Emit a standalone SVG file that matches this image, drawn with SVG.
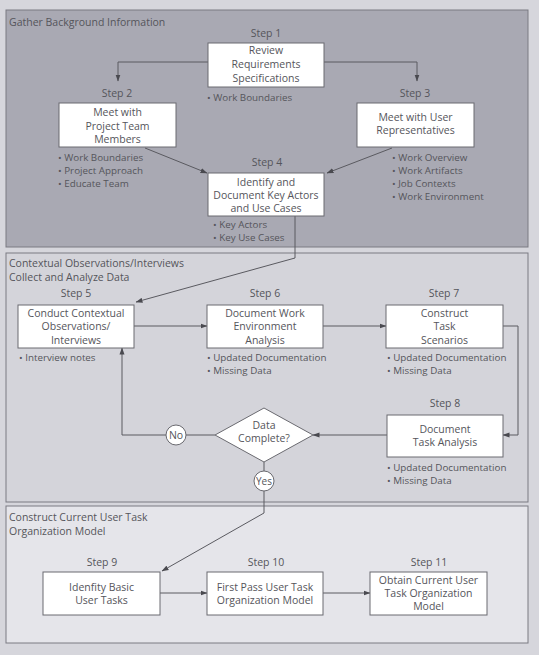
<svg xmlns="http://www.w3.org/2000/svg" width="539" height="655" viewBox="0 0 539 655">
<style>
text{font-family:"Open Sans","Noto Sans","DejaVu Sans",sans-serif;fill:#55555b}
.t{font-size:10.5px}
.c{font-size:10.5px;text-anchor:middle}
.b{font-size:9.8px}
.box{fill:#ffffff;stroke:#6a6a70;stroke-width:1}
.panel{stroke:#7a7a82;stroke-width:1}
.ln{fill:none;stroke:#5a5a60;stroke-width:1}
.arr{fill:none;stroke:#5a5a60;stroke-width:1;marker-end:url(#ah)}
</style>
<defs>
<marker id="ah" markerWidth="7" markerHeight="6" refX="6.5" refY="3" orient="auto" markerUnits="userSpaceOnUse">
<path d="M0,0.5 L7,3 L0,5.5 Z" fill="#4a4a50"/>
</marker>
</defs>
<rect x="0" y="0" width="539" height="655" fill="#d6d6dc"/>
<g id="panel1">
<rect class="panel" x="6" y="10" width="522" height="237" fill="#a9a9b3"/>
<text class="t" x="9" y="25.5">Gather Background Information</text>
</g>
<g id="panel2">
<rect class="panel" x="6" y="253" width="522" height="249" fill="#d4d4da"/>
<text class="t" x="9" y="267">Contextual Observations/Interviews</text>
<text class="t" x="9" y="281">Collect and Analyze Data</text>
</g>
<g id="panel3">
<rect class="panel" x="6" y="506" width="522" height="137" fill="#e5e5ea"/>
<text class="t" x="9" y="521">Construct Current User Task</text>
<text class="t" x="9" y="535">Organization Model</text>
</g>
<g id="connectors">
<path class="arr" d="M208,62 H118 V81"/>
<path class="arr" d="M324,62 H417 V81"/>
<path class="arr" d="M145,148 L207,173"/>
<path class="arr" d="M392,148 L327,173"/>
<path class="arr" d="M295,216 V258 L136,302"/>
<path class="arr" d="M134,326 H207"/>
<path class="arr" d="M323,326 H386"/>
<path class="arr" d="M503,326 H518 V435 H503"/>
<path class="arr" d="M387,435 H313"/>
<path class="ln" d="M215,435 H186"/>
<path class="arr" d="M166,435 H122 V348"/>
<path class="ln" d="M264,462 V471"/>
<path class="arr" d="M264,491 V513 L162,571"/>
<path class="arr" d="M160,593 H207"/>
<path class="arr" d="M323,593 H370"/>
</g>
<g id="step1">
<text class="c" x="266" y="37">Step 1</text>
<rect class="box" x="208" y="43" width="116" height="44"/>
<text class="c" x="266" y="54">Review</text>
<text class="c" x="266" y="68">Requirements</text>
<text class="c" x="266" y="82">Specifications</text>
<text class="b" x="207" y="101">• Work Boundaries</text>
</g>
<g id="step2">
<text class="c" x="117" y="97">Step 2</text>
<rect class="box" x="59" y="103" width="117" height="44"/>
<text class="c" x="117.5" y="116">Meet with</text>
<text class="c" x="117.5" y="130">Project Team</text>
<text class="c" x="117.5" y="143">Members</text>
<text class="b" x="58" y="160.5">• Work Boundaries</text>
<text class="b" x="58" y="173.5">• Project Approach</text>
<text class="b" x="58" y="186.5">• Educate Team</text>
</g>
<g id="step3">
<text class="c" x="415" y="97">Step 3</text>
<rect class="box" x="357" y="103" width="117" height="44"/>
<text class="c" x="415.5" y="121">Meet with User</text>
<text class="c" x="415.5" y="134">Representatives</text>
<text class="b" x="392" y="160.5">• Work Overview</text>
<text class="b" x="392" y="174">• Work Artifacts</text>
<text class="b" x="392" y="187">• Job Contexts</text>
<text class="b" x="392" y="200">• Work Environment</text>
</g>
<g id="step4">
<text class="c" x="267" y="166">Step 4</text>
<rect class="box" x="208" y="173" width="116" height="43"/>
<text class="c" x="266" y="186">Identify and</text>
<text class="c" x="266" y="199">Document Key Actors</text>
<text class="c" x="266" y="212">and Use Cases</text>
<text class="b" x="213" y="227.5">• Key Actors</text>
<text class="b" x="213" y="240.5">• Key Use Cases</text>
</g>
<g id="step5">
<text class="c" x="76" y="297">Step 5</text>
<rect class="box" x="18" y="305" width="116" height="43"/>
<text class="c" x="76" y="317">Conduct Contextual</text>
<text class="c" x="76" y="330">Observations/</text>
<text class="c" x="76" y="344">Interviews</text>
<text class="b" x="19" y="360.5">• Interview notes</text>
</g>
<g id="step6">
<text class="c" x="265" y="297">Step 6</text>
<rect class="box" x="207" y="305" width="116" height="43"/>
<text class="c" x="265" y="317">Document Work</text>
<text class="c" x="265" y="330">Environment</text>
<text class="c" x="265" y="344">Analysis</text>
<text class="b" x="207" y="360.5">• Updated Documentation</text>
<text class="b" x="207" y="373.5">• Missing Data</text>
</g>
<g id="step7">
<text class="c" x="444" y="297">Step 7</text>
<rect class="box" x="386" y="305" width="117" height="43"/>
<text class="c" x="444.5" y="317">Construct</text>
<text class="c" x="444.5" y="330">Task</text>
<text class="c" x="444.5" y="344">Scenarios</text>
<text class="b" x="387" y="360.5">• Updated Documentation</text>
<text class="b" x="387" y="373.5">• Missing Data</text>
</g>
<g id="step8">
<text class="c" x="445" y="407">Step 8</text>
<rect class="box" x="387" y="415" width="116" height="42"/>
<text class="c" x="445" y="433">Document</text>
<text class="c" x="445" y="446">Task Analysis</text>
<text class="b" x="387" y="470.5">• Updated Documentation</text>
<text class="b" x="387" y="483.5">• Missing Data</text>
</g>
<g id="decision">
<path class="box" d="M264,408 L313,435 L264,462 L215,435 Z"/>
<text class="c" x="264" y="429">Data</text>
<text class="c" x="264" y="442">Complete?</text>
</g>
<g id="no">
<circle class="box" cx="176" cy="435" r="10"/>
<text class="c" x="176" y="439">No</text>
</g>
<g id="yes">
<circle class="box" cx="264" cy="481" r="10"/>
<text class="c" x="264" y="485" style="font-size:10px">Yes</text>
</g>
<g id="step9">
<text class="c" x="102" y="566">Step 9</text>
<rect class="box" x="43" y="572" width="117" height="43"/>
<text class="c" x="101.5" y="591">Idenfity Basic</text>
<text class="c" x="101.5" y="604">User Tasks</text>
</g>
<g id="step10">
<text class="c" x="266" y="566">Step 10</text>
<rect class="box" x="207" y="572" width="116" height="43"/>
<text class="c" x="265" y="591">First Pass User Task</text>
<text class="c" x="265" y="604">Organization Model</text>
</g>
<g id="step11">
<text class="c" x="429" y="566">Step 11</text>
<rect class="box" x="370" y="572" width="117" height="43"/>
<text class="c" x="428.5" y="584">Obtain Current User</text>
<text class="c" x="428.5" y="597">Task Organization</text>
<text class="c" x="428.5" y="610">Model</text>
</g>
</svg>
